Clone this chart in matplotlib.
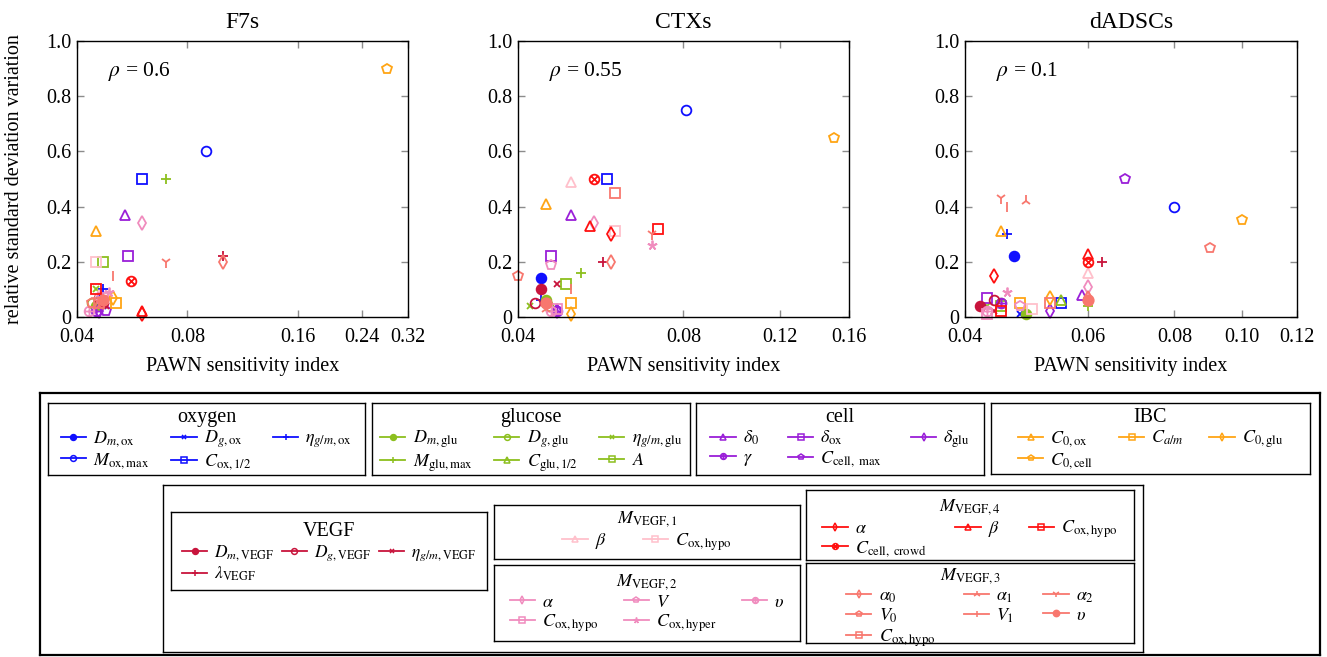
import numpy as np
import matplotlib.pyplot as plt
from matplotlib.path import Path
from matplotlib.lines import Line2D
from matplotlib.ticker import FixedLocator, FixedFormatter, NullLocator

plt.rcParams['font.family'] = ['Liberation Serif', 'DejaVu Serif']
plt.rcParams['mathtext.fontset'] = 'stix'

W, H = 1327, 657

# ---- parameters (legend order) ----
param_group = (['oxygen'] * 5 + ['glucose'] * 6 + ['cell'] * 5 + ['IBC'] * 4
               + ['VEGF'] * 4 + ['M1'] * 2 + ['M2'] * 5 + ['M4'] * 4 + ['M3'] * 7)

param_label = [
    r'$D_{m,\mathrm{ox}}$', r'$D_{g,\mathrm{ox}}$', r'$\eta_{g/m,\mathrm{ox}}$',
    r'$M_{\mathrm{ox,max}}$', r'$C_{\mathrm{ox},1/2}$',
    r'$D_{m,\mathrm{glu}}$', r'$D_{g,\mathrm{glu}}$', r'$\eta_{g/m,\mathrm{glu}}$',
    r'$M_{\mathrm{glu,max}}$', r'$C_{\mathrm{glu},1/2}$', r'$A$',
    r'$\delta_0$', r'$\delta_{\mathrm{ox}}$', r'$\delta_{\mathrm{glu}}$',
    r'$\gamma$', r'$C_{\mathrm{cell,\ max}}$',
    r'$C_{0,\mathrm{ox}}$', r'$C_{a/m}$', r'$C_{0,\mathrm{glu}}$', r'$C_{0,\mathrm{cell}}$',
    r'$D_{m,\mathrm{VEGF}}$', r'$D_{g,\mathrm{VEGF}}$', r'$\eta_{g/m,\mathrm{VEGF}}$',
    r'$\lambda_{\mathrm{VEGF}}$',
    r'$\beta$', r'$C_{\mathrm{ox,hypo}}$',
    r'$\alpha$', r'$V$', r'$\upsilon$', r'$C_{\mathrm{ox,hypo}}$', r'$C_{\mathrm{ox,hyper}}$',
    r'$\alpha$', r'$\beta$', r'$C_{\mathrm{ox,hypo}}$', r'$C_{\mathrm{cell,\ crowd}}$',
    r'$\alpha_0$', r'$\alpha_1$', r'$\alpha_2$', r'$V_0$', r'$V_1$', r'$\upsilon$',
    r'$C_{\mathrm{ox,hypo}}$',
]

# ---- PAWN index (x) and relative std variation (y) per cell line ----
f7s_x = [0.046, 0.047, 0.047, 0.090, 0.060,
         0.045, 0.044, 0.045, 0.070, 0.046, 0.047,
         0.054, 0.055, 0.046, 0.045, 0.048,
         0.045, 0.051, 0.050, 0.280,
         0.047, 0.046, 0.048, 0.100,
         0.046, 0.045,
         0.060, 0.047, 0.043, 0.047, 0.049,
         0.060, 0.060, 0.045, 0.056,
         0.100, 0.046, 0.070, 0.044, 0.050, 0.047, 0.046]
f7s_y = [0.06, 0.04, 0.10, 0.60, 0.50,
         0.04, 0.05, 0.10, 0.50, 0.05, 0.20,
         0.37, 0.22, 0.02, 0.02, 0.02,
         0.31, 0.05, 0.07, 0.90,
         0.05, 0.07, 0.04, 0.22,
         0.08, 0.20,
         0.34, 0.06, 0.02, 0.07, 0.09,
         0.01, 0.02, 0.10, 0.13,
         0.20, 0.04, 0.20, 0.05, 0.15, 0.06, 0.05]

ctx_x = [0.044, 0.045, 0.044, 0.081, 0.058,
         0.045, 0.045, 0.042, 0.052, 0.046, 0.049,
         0.050, 0.046, 0.047, 0.047, 0.047,
         0.045, 0.050, 0.050, 0.150,
         0.044, 0.043, 0.047, 0.057,
         0.050, 0.060,
         0.055, 0.046, 0.046, 0.047, 0.070,
         0.059, 0.054, 0.072, 0.055,
         0.059, 0.045, 0.070, 0.040, 0.050, 0.045, 0.060]
ctx_y = [0.14, 0.05, 0.06, 0.75, 0.50,
         0.06, 0.05, 0.04, 0.16, 0.04, 0.12,
         0.37, 0.22, 0.02, 0.02, 0.02,
         0.41, 0.05, 0.01, 0.65,
         0.10, 0.05, 0.12, 0.20,
         0.49, 0.31,
         0.34, 0.19, 0.02, 0.03, 0.26,
         0.30, 0.33, 0.32, 0.50,
         0.20, 0.03, 0.30, 0.15, 0.10, 0.05, 0.45]

dadsc_x = [0.047, 0.048, 0.046, 0.080, 0.055,
           0.049, 0.045, 0.043, 0.060, 0.055, 0.045,
           0.059, 0.043, 0.053, 0.045, 0.068,
           0.045, 0.048, 0.053, 0.100,
           0.042, 0.044, 0.044, 0.063,
           0.060, 0.050,
           0.060, 0.048, 0.043, 0.043, 0.046,
           0.044, 0.060, 0.045, 0.060,
           0.060, 0.049, 0.045, 0.090, 0.046, 0.060, 0.053]
dadsc_y = [0.22, 0.01, 0.30, 0.40, 0.05,
           0.01, 0.05, 0.04, 0.04, 0.06, 0.04,
           0.08, 0.07, 0.02, 0.05, 0.50,
           0.31, 0.05, 0.07, 0.35,
           0.04, 0.06, 0.02, 0.20,
           0.16, 0.03,
           0.11, 0.04, 0.02, 0.01, 0.09,
           0.15, 0.23, 0.02, 0.20,
           0.07, 0.42, 0.43, 0.25, 0.40, 0.06, 0.05]

panel_titles = ['F7s', 'CTXs', 'dADSCs']
rho_values = ['0.6', '0.55', '0.1']
panel_xlims = [(0.04, 0.32), (0.04, 0.16), (0.04, 0.12)]
panel_xticks = [[0.04, 0.08, 0.16, 0.24, 0.32],
                [0.04, 0.08, 0.12, 0.16],
                [0.04, 0.06, 0.08, 0.10, 0.12]]
panel_xticklabels = [['0.04', '0.08', '0.16', '0.24', '0.32'],
                     ['0.04', '0.08', '0.12', '0.16'],
                     ['0.04', '0.06', '0.08', '0.10', '0.12']]
yticks = [0, 0.2, 0.4, 0.6, 0.8, 1.0]
yticklabels = ['0', '0.2', '0.4', '0.6', '0.8', '1.0']

# ---- styling ----
group_colors = {
    'oxygen': '#1010ff', 'glucose': '#8cbf1e', 'cell': '#9a1fd8',
    'IBC': '#ffa515', 'VEGF': '#c8143c', 'M1': '#ffc0cb',
    'M2': '#f08cbe', 'M4': '#ff1010', 'M3': '#f8776e',
}
group_titles = {
    'oxygen': 'oxygen', 'glucose': 'glucose', 'cell': 'cell', 'IBC': 'IBC',
    'VEGF': 'VEGF', 'M1': r'$M_{\mathrm{VEGF},1}$', 'M2': r'$M_{\mathrm{VEGF},2}$',
    'M4': r'$M_{\mathrm{VEGF},4}$', 'M3': r'$M_{\mathrm{VEGF},3}$',
}

circ = Path.unit_circle()
plus_lines = Path([[-1, 0], [1, 0], [0, -1], [0, 1]],
                  [Path.MOVETO, Path.LINETO, Path.MOVETO, Path.LINETO])
d = 0.7071
cross_lines = Path([[-d, -d], [d, d], [-d, d], [d, -d]],
                   [Path.MOVETO, Path.LINETO, Path.MOVETO, Path.LINETO])
OPLUS = Path.make_compound_path(circ, plus_lines)
OTIMES = Path.make_compound_path(circ, cross_lines)
STAR = (5, 2, 0)

# (marker, filled, size)
param_marker = [
    ('o', True, 7), ('x', False, 5), ('+', False, 7), ('o', False, 7), ('s', False, 7),
    ('o', True, 7), ('o', False, 7), ('x', False, 5), ('+', False, 7), ('^', False, 6.5), ('s', False, 7),
    ('^', False, 6.5), ('s', False, 7), ('d', False, 7), (OPLUS, False, 7), ('p', False, 7),
    ('^', False, 6.5), ('s', False, 7), ('d', False, 7), ('p', False, 7),
    ('o', True, 7), ('o', False, 7), ('x', False, 5), ('+', False, 7),
    ('^', False, 6.5), ('s', False, 7),
    ('d', False, 7), ('p', False, 7), (OPLUS, False, 7), ('s', False, 7), (STAR, False, 7),
    ('d', False, 7), ('^', False, 6.5), ('s', False, 7), (OTIMES, False, 7),
    ('d', False, 7), ('2', False, 8), ('1', False, 8), ('p', False, 7), ('|', False, 7),
    ('o', True, 7.5), ('s', False, 7),
]


def px_rect(x0, y0, x1, y1):
    return [x0 / W, 1 - y1 / H, (x1 - x0) / W, (y1 - y0) / H]


fig = plt.figure(figsize=(W / 100, H / 100), dpi=100)
fig.patch.set_facecolor('white')

axes_px = [(77, 41, 408, 317), (518, 41, 849, 317), (965, 41, 1297, 317)]
data = [(f7s_x, f7s_y), (ctx_x, ctx_y), (dadsc_x, dadsc_y)]

for k, (box, (xs, ys)) in enumerate(zip(axes_px, data)):
    ax = fig.add_axes(px_rect(*box))
    ax.set_xscale('log')
    for i in range(len(param_label)):
        mk, filled, ms = param_marker[i]
        c = group_colors[param_group[i]]
        ax.plot(xs[i], ys[i], linestyle='none', marker=mk, color=c,
                mfc=c if filled else 'none', ms=ms, mew=1.3, clip_on=False)
    ax.set_xlim(*panel_xlims[k])
    ax.set_ylim(0, 1)
    ax.xaxis.set_major_locator(FixedLocator(panel_xticks[k]))
    ax.xaxis.set_major_formatter(FixedFormatter(panel_xticklabels[k]))
    ax.xaxis.set_minor_locator(NullLocator())
    ax.yaxis.set_major_locator(FixedLocator(yticks))
    ax.yaxis.set_major_formatter(FixedFormatter(yticklabels))
    ax.tick_params(direction='in', top=True, right=True, color='0.55',
                   length=5, width=1, labelsize=14.5)
    ax.tick_params(axis='x', pad=8)
    ax.tick_params(axis='y', pad=4)
    for s in ax.spines.values():
        s.set_linewidth(1.0)
    ax.set_title(panel_titles[k], fontsize=17, pad=9)
    ax.set_xlabel('PAWN sensitivity index', fontsize=14.5, labelpad=7)
    ax.text(0.094, 0.89, r'$\rho$ = ' + rho_values[k], transform=ax.transAxes,
            fontsize=15.5, va='center', ha='left')

fig.text(15 / W, 1 - 179 / H, 'relative standard deviation variation',
         rotation=90, ha='center', va='center', fontsize=14.5)


# ---- legend ----
def box_axes(x0, y0, x1, y1, lw=1.0):
    a = fig.add_axes(px_rect(x0, y0, x1, y1))
    a.set_xticks([])
    a.set_yticks([])
    a.patch.set_alpha(0)
    for s in a.spines.values():
        s.set_linewidth(lw)
    return a


def row_major(items, ncol):
    ncol = min(ncol, len(items))
    nrows, nlarge = divmod(len(items), ncol)
    per_col = [nrows + 1] * nlarge + [nrows] * (ncol - nlarge)
    out = []
    for c in range(ncol):
        for r in range(per_col[c]):
            out.append(items[r * ncol + c])
    return out


# box corners in pixels, upward shift of the entries, column spacing
legend_boxes = {
    'oxygen': ((48, 403, 365, 475), 8, 1.2), 'glucose': ((372, 403, 690, 475), 8, 1.2),
    'cell': ((696, 403, 984, 475), 8, 1.6), 'IBC': ((991, 403, 1310, 474), 8, 1.4),
    'VEGF': ((171, 512, 487, 590), 2, 0.5), 'M1': ((494, 505, 800, 559), 9, 2.0),
    'M2': ((494, 565, 800, 641), 6, 1.4), 'M4': ((806, 490, 1134, 560), 6, 1.6),
    'M3': ((806, 563, 1134, 643), 10, 1.6),
}

box_axes(40, 393, 1320, 655, lw=1.6)
box_axes(163, 485, 1143, 652, lw=1.0)

for g, (box, shift, colsp) in legend_boxes.items():
    a = box_axes(*box)
    c = group_colors[g]
    items = []
    for i in range(len(param_label)):
        if param_group[i] != g:
            continue
        mk, filled, ms = param_marker[i]
        h = Line2D([], [], color=c, lw=1.3, marker=mk, ms=ms * 0.6,
                   mfc=c if filled else 'none', mew=1.1)
        items.append((h, param_label[i]))
    items = row_major(items, 3)
    is_math = g.startswith('M')
    anchor_y = 1.02 + shift / (box[3] - box[1])
    a.legend([h for h, _ in items], [l for _, l in items],
             title=group_titles[g], ncol=3, loc='upper center',
             bbox_to_anchor=(0.5, anchor_y), frameon=False,
             fontsize=12.5 if g == 'VEGF' else 13,
             title_fontsize=13 if is_math else 14.5,
             handlelength=1.4, handletextpad=0.4, columnspacing=colsp,
             labelspacing=0.1, borderpad=0.3)

fig.savefig('out.png', dpi=100)
